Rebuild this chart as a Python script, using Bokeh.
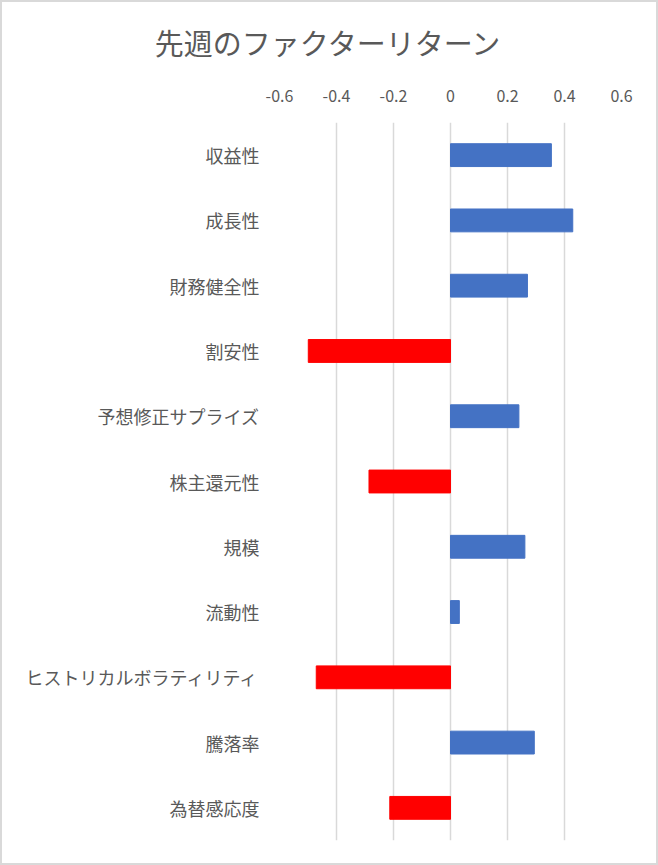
from bokeh.plotting import figure
from bokeh.layouts import column
from bokeh.models import FactorRange, Range1d, FixedTicker, CustomJSTickFormatter, ColumnDataSource, Div
from bokeh.embed import file_html
from bokeh.resources import INLINE

categories = ["収益性", "成長性", "財務健全性", "割安性", "予想修正サプライズ", "株主還元性",
              "規模", "流動性", "ヒストリカルボラティリティ", "騰落率", "為替感応度"]
returns = [0.354, 0.429, 0.270, -0.499, 0.240, -0.286, 0.261, 0.031, -0.471, 0.294, -0.213]
x_ticks = [-0.6, -0.4, -0.2, 0.0, 0.2, 0.4, 0.6]
title_text = "先週のファクターリターン"

POS = "#4472C4"
NEG = "#FF0000"
TXT = "#595959"
FONT = "Noto Sans CJK JP"

colors = [POS if v >= 0 else NEG for v in returns]
src = ColumnDataSource(dict(cat=categories, val=returns, color=colors))

title_div = Div(
    text=(f'<div style="width:651px;text-align:center;font-family:\'{FONT}\';'
          f'font-size:29px;color:{TXT};line-height:80px;white-space:nowrap;">{title_text}</div>'),
    width=654, height=80, margin=0)

p = figure(width=654, height=781, title=None,
           y_range=FactorRange(factors=categories[::-1]),
           x_range=Range1d(x_ticks[0], x_ticks[-1]),
           x_axis_location="above",
           output_backend="svg", toolbar_location=None,
           min_border_left=277, min_border_right=35,
           min_border_top=40, min_border_bottom=23, margin=0)

p.hbar(y="cat", left=0, right="val", height=0.35, color="color", source=src)

p.outline_line_color = None
p.background_fill_color = "white"
p.border_fill_color = "white"

ticker = FixedTicker(ticks=x_ticks)
p.xaxis.ticker = ticker
p.xaxis.formatter = CustomJSTickFormatter(code="return Math.abs(tick) < 1e-9 ? '0' : tick.toFixed(1);")
p.xaxis.axis_line_color = None
p.xaxis.major_tick_line_color = None
p.xaxis.minor_tick_line_color = None
p.xaxis.major_label_text_font = FONT
p.xaxis.major_label_text_font_size = "16px"
p.xaxis.major_label_text_color = TXT
p.xaxis.major_label_standoff = 15

p.yaxis.axis_line_color = None
p.yaxis.major_tick_line_color = None
p.yaxis.minor_tick_line_color = None
p.yaxis.major_label_text_font = FONT
p.yaxis.major_label_text_font_size = "18px"
p.yaxis.major_label_text_color = TXT
p.yaxis.major_label_standoff = 14

p.xgrid.ticker = ticker
p.xgrid.grid_line_color = "#D9D9D9"
p.xgrid.grid_line_width = 1.5
p.ygrid.visible = False

layout = column(title_div, p, width=658, height=865, spacing=0,
                styles={"border": "2px solid #D9D9D9", "background-color": "white"})

open("out.html", "w").write(file_html(layout, INLINE))
